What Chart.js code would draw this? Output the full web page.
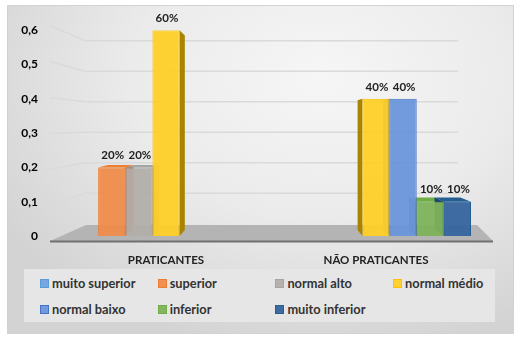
<!DOCTYPE html>
<html>
<head>
<meta charset="utf-8">
<script src="https://cdn.jsdelivr.net/npm/chart.js@4/dist/chart.umd.min.js"></script>
<style>
  body { margin: 0; background: #fff; width: 523px; height: 338px; overflow: hidden; font-family: 'Lato', sans-serif; }
  #frame {
    position: absolute; left: 7px; top: 5px; width: 505px; height: 327px;
    border: 1px solid #d2d2d2;
    background: radial-gradient(ellipse 75% 85% at 62% 22%, #f6f6f6 0%, #ebebeb 50%, #d3d3d3 100%);
  }
  #c { position: absolute; left: 0; top: 0; }
  #legend {
    position: absolute; left: 24px; top: 269px; width: 471px; height: 53px;
    background: #e6e6e6;
    display: grid; grid-template-columns: repeat(4, 117.7px); grid-auto-rows: 26px;
    padding: 1px 0 0 16px; box-sizing: border-box;
  }
  .item { display: flex; align-items: center; font-size: 12.8px; font-weight: 700; color: #333; }
  .sw { width: 7px; height: 7px; border: 1px solid; margin-right: 3px; }
</style>
</head>
<body>
<div id="frame"></div>
<canvas id="c" width="523" height="338"></canvas>
<div id="legend"></div>
<script>
// categorias e séries
const categorias = ['PRATICANTES', 'NÃO PRATICANTES'];
const series = ['muito superior', 'superior', 'normal alto', 'normal médio', 'normal baixo', 'inferior', 'muito inferior'];

const muitoSuperior = [null, null];
const superior      = [0.2, null];
const normalAlto    = [0.2, null];
const normalMedio   = [0.6, 0.4];
const normalBaixo   = [null, 0.4];
const inferior      = [null, 0.1];
const muitoInferior = [null, 0.1];

const yTicks = [0, 0.1, 0.2, 0.3, 0.4, 0.5, 0.6];

const CORES  = ['#5B9BD5', '#ED7D31', '#A5A5A5', '#FFC000', '#4472C4', '#70AD47', '#255E91'];
const FILLS  = ['rgba(108,158,224,0.9)', 'rgba(240,140,76,0.95)', 'rgba(178,174,170,0.95)', 'rgba(255,208,40,0.95)',
                'rgba(106,150,220,0.95)', 'rgba(126,179,90,0.95)', 'rgba(52,100,158,0.95)'];
const SIDES  = ['#3f6fa8', '#b85a1c', '#8a8580', '#a88400', '#345ca8', '#4f7e2e', '#1c4670'];

const valores = [muitoSuperior, superior, normalAlto, normalMedio, normalBaixo, inferior, muitoInferior];

Chart.defaults.font.family = 'Lato';

// perspectiva aproximada
const VX = 275, VY = 125, K = 0.055;
const back = (px, py) => [px + (VX - px) * K, py + (VY - py) * K];

const cena3d = {
    id: 'cena3d',
    beforeDatasetsDraw(chart) {
        const { ctx, chartArea: a, scales: { y } } = chart;
        const L = a.left, R = a.right;
        const fy = v => VY + (y.getPixelForValue(v) - VY) * 1.05;
        const by = v => VY + (y.getPixelForValue(v) - VY) * 0.89;
        ctx.save();
        // linhas de grade (parede lateral + fundo)
        ctx.strokeStyle = '#dadada';
        ctx.lineWidth = 1.5;
        yTicks.slice(1).forEach(v => {
            ctx.beginPath();
            ctx.moveTo(L - 11, fy(v));
            ctx.lineTo(L + 24, by(v));
            ctx.lineTo(R - 23, by(v));
            ctx.stroke();
        });
        // piso
        const y0 = y.getPixelForValue(0);
        ctx.fillStyle = '#b4b4b4';
        ctx.beginPath();
        ctx.moveTo(L - 11, y0 + 5);
        ctx.lineTo(R + 12, y0 + 5);
        ctx.lineTo(R - 4, y0 - 11);
        ctx.lineTo(L + 25, y0 - 11);
        ctx.closePath();
        ctx.fill();
        ctx.strokeStyle = '#707070';
        ctx.lineWidth = 2;
        ctx.beginPath();
        ctx.moveTo(L - 11, y0 + 5.5);
        ctx.lineTo(R + 12, y0 + 5.5);
        ctx.stroke();
        // faces laterais e superiores das barras
        chart.data.datasets.forEach((ds, i) => {
            chart.getDatasetMeta(i).data.forEach((bar, j) => {
                if (ds.data[j] == null) return;
                const x1 = bar.x - bar.width / 2, x2 = bar.x + bar.width / 2;
                const t = bar.y, b = bar.base;
                ctx.fillStyle = SIDES[i];
                const xs = bar.x < VX ? x2 : x1;
                const [bx1, bt] = back(xs, t), [bx2, bb] = back(xs, b);
                ctx.beginPath();
                ctx.moveTo(xs, t); ctx.lineTo(bx1, bt); ctx.lineTo(bx2, bb); ctx.lineTo(xs, b);
                ctx.closePath(); ctx.fill();
                if (t > VY) {
                    const [ax, ay] = back(x1, t), [cx, cy] = back(x2, t);
                    ctx.fillStyle = CORES[i];
                    ctx.beginPath();
                    ctx.moveTo(x1, t); ctx.lineTo(ax, ay); ctx.lineTo(cx, cy); ctx.lineTo(x2, t);
                    ctx.closePath(); ctx.fill();
                }
            });
        });
        ctx.restore();
    },
    afterDatasetsDraw(chart) {
        const { ctx } = chart;
        ctx.save();
        ctx.font = 'bold 11.5px Lato';
        ctx.fillStyle = '#222';
        ctx.textAlign = 'center';
        ctx.textBaseline = 'middle';
        chart.data.datasets.forEach((ds, i) => {
            chart.getDatasetMeta(i).data.forEach((bar, j) => {
                const v = ds.data[j];
                if (v == null) return;
                ctx.fillText(Math.round(v * 100) + '%', bar.x + 1, bar.y - 12);
            });
        });
        ctx.restore();
    }
};

new Chart(document.getElementById('c'), {
    type: 'bar',
    data: {
        labels: categorias,
        datasets: series.map((s, i) => ({
            label: s,
            data: valores[i],
            backgroundColor: FILLS[i],
            borderColor: CORES[i],
            borderWidth: 1,
            categoryPercentage: 0.905,
            barPercentage: 1.0
        }))
    },
    options: {
        responsive: false,
        animation: false,
        layout: { padding: { left: 0, right: 42, top: 28, bottom: 72 } },
        plugins: { legend: { display: false }, tooltip: { enabled: false } },
        scales: {
            x: {
                grid: { display: false, drawTicks: false },
                border: { display: false },
                ticks: { color: '#222', font: { size: 11.5, weight: 'bold' }, padding: 17 },
                afterFit: s => { s.height = 30; }
            },
            y: {
                min: 0, max: 0.6,
                grid: { display: false, drawTicks: false },
                border: { display: false },
                afterBuildTicks: s => { s.ticks = yTicks.map(v => ({ value: v })); },
                ticks: {
                    color: '#000',
                    font: { size: 12, weight: 'bold' },
                    padding: 23,
                    callback: v => String(v).replace('.', ',')
                },
                afterFit: s => { s.width = 61; }
            }
        }
    },
    plugins: [cena3d]
});

// legenda
const leg = document.getElementById('legend');
series.forEach((s, i) => {
    const d = document.createElement('div');
    d.className = 'item';
    d.innerHTML = `<span class="sw" style="background:${FILLS[i]};border-color:${CORES[i]}"></span>${s}`;
    leg.appendChild(d);
});
</script>
</body>
</html>
